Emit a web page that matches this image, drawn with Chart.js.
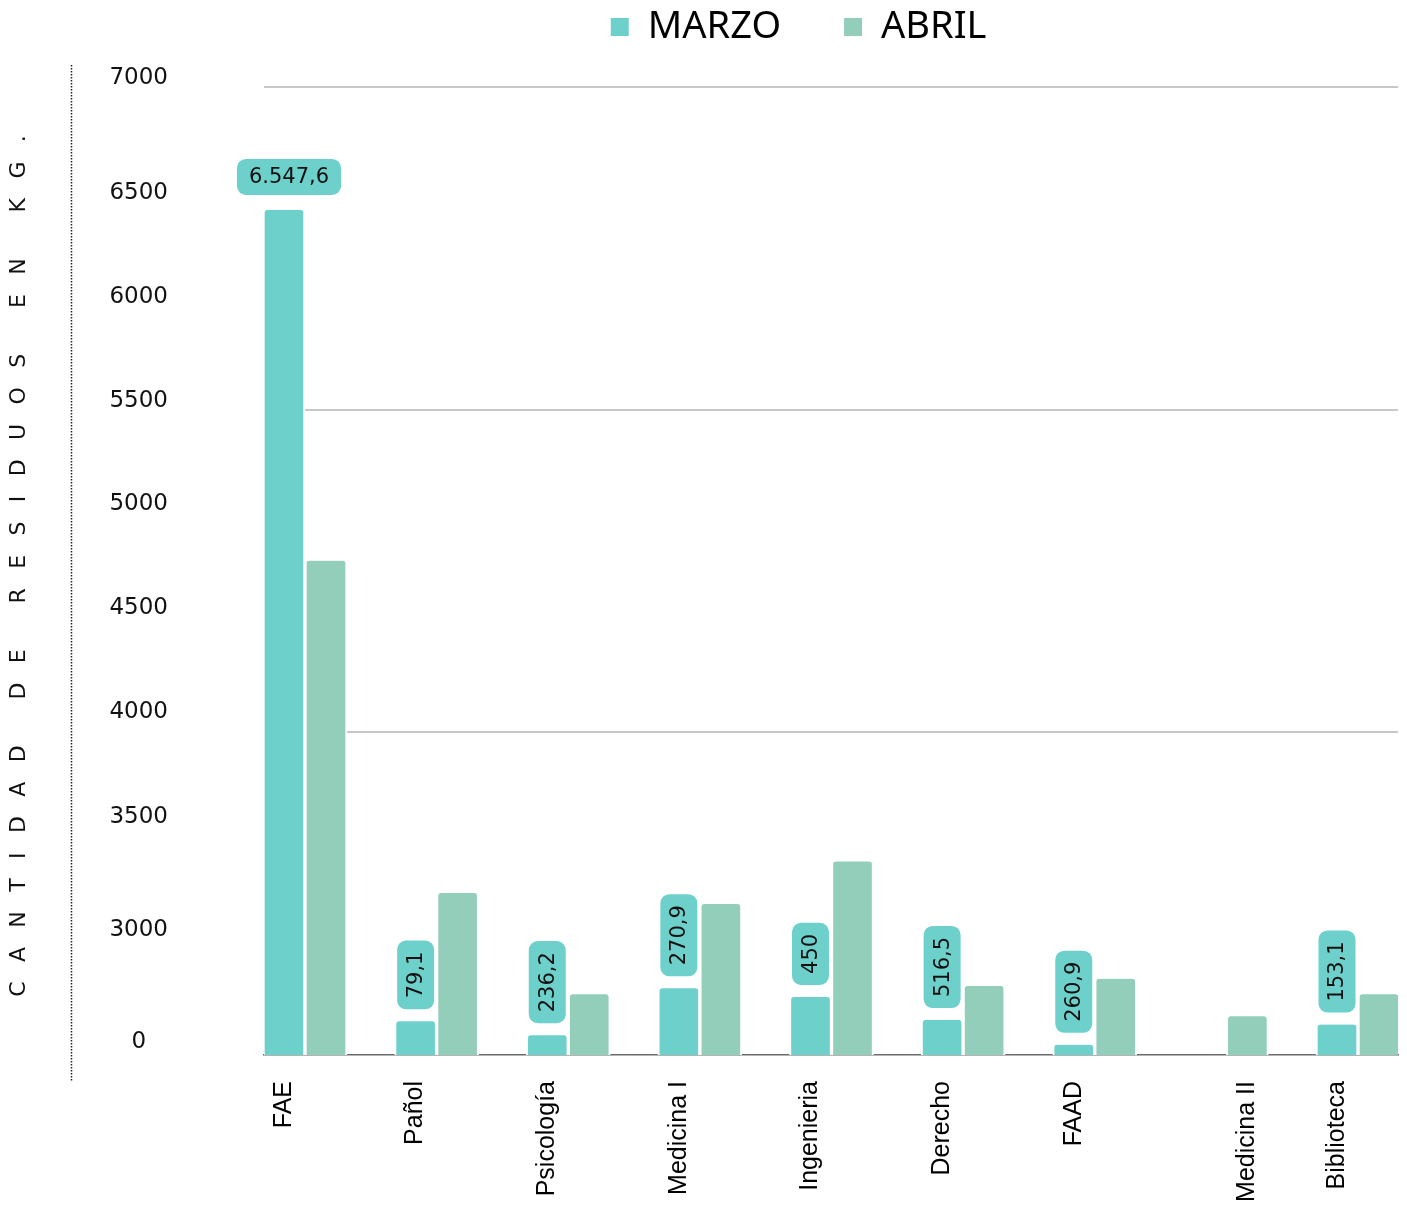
<!DOCTYPE html>
<html><head><meta charset="utf-8">
<script src="https://cdn.jsdelivr.net/npm/chart.js@4.4.1/dist/chart.umd.min.js"></script>
<style>html,body{margin:0;padding:0;background:#fff;}#wrap{position:relative;width:1407px;height:1209px;}</style>
</head><body><div id="wrap"><canvas id="c" width="1407" height="1209"></canvas></div>
<script>
const categories = ['FAE','Pañol','Psicología','Medicina I','Ingenieria','Derecho','FAAD','Medicina II','Biblioteca'];
const marzo = [6547.6, 260.9, 153.1, 516.5, 450, 270.9, 79.1, null, 236.2];
const abril = [3830, 1255, 470, 1170, 1500, 535, 590, 300, 470];
const marzoLabels = ['6.547,6','79,1','236,2','270,9','450','516,5','260,9','','153,1'];
const yTickLabels = ['0','3000','3500','4000','4500','5000','5500','6000','6500','7000'];
const yTickValues = [100, 968, 1842, 2655, 3460, 4265, 5070, 5875, 6680, 7570];
const gridValues = [2500, 5000, 7500];
const yTitle = 'CANTIDAD DE RESIDUOS EN KG.';

const YMAX = 7740;
const C_MARZO = '#6ED0CB', C_ABRIL = '#93CEBA';
const NUM_FONT = "'DejaVu Sans', sans-serif";

const deco = {
  id: 'deco',
  beforeDraw(chart) {
    const c = chart.ctx;
    c.save();
    c.strokeStyle = '#222'; c.lineWidth = 1.5; c.setLineDash([1.5, 1.5]);
    c.beginPath(); c.moveTo(71.5, 65); c.lineTo(71.5, 1081); c.stroke();
    c.setLineDash([]);
    c.font = "22px " + NUM_FONT; c.fillStyle = '#111'; c.textBaseline = 'middle'; c.textAlign = 'left';
    const ls = 19.4;
    const chars = Array.from(yTitle);
    const widths = chars.map(ch => c.measureText(ch).width);
    const total = widths.reduce((a, b) => a + b, 0) + ls * (chars.length - 1);
    c.translate(19, 566); c.rotate(-Math.PI / 2);
    let x = -total / 2;
    chars.forEach((ch, i) => { c.fillText(ch, x, 0); x += widths[i] + ls; });
    c.restore();
  },
  afterDatasetsDraw(chart) {
    const c = chart.ctx;
    const meta = chart.getDatasetMeta(0);
    c.save();
    c.font = "21px " + NUM_FONT; c.textAlign = 'center'; c.textBaseline = 'middle';
    meta.data.forEach((bar, i) => {
      if (marzo[i] === null || !marzoLabels[i]) return;
      const text = marzoLabels[i];
      const w = c.measureText(text).width;
      const horizontal = marzo[i] > 1000;
      c.fillStyle = C_MARZO;
      if (horizontal) {
        const bw = w + 24, bh = 36, cx = bar.x + 5, bottom = bar.y - 15;
        c.beginPath(); c.roundRect(cx - bw / 2, bottom - bh, bw, bh, 9); c.fill();
        c.fillStyle = '#111'; c.fillText(text, cx, bottom - bh / 2 + 1);
      } else {
        const bl = w + 22, bt = 37, cx = bar.x, bottom = bar.y - 12;
        c.beginPath(); c.roundRect(cx - bt / 2, bottom - bl, bt, bl, 9); c.fill();
        c.save(); c.translate(cx + 1, bottom - bl / 2); c.rotate(-Math.PI / 2);
        c.fillStyle = '#111'; c.fillText(text, 0, 0); c.restore();
      }
    });
    c.restore();
  }
};

const blank = t => ({ text: t, fillStyle: 'rgba(0,0,0,0)', strokeStyle: 'rgba(0,0,0,0)', lineWidth: 0, hidden: false });

const chart = new Chart(document.getElementById('c'), {
  type: 'bar',
  data: {
    datasets: [
      { label: 'MARZO', data: marzo.map((v, i) => ({ x: i, y: v })), backgroundColor: C_MARZO },
      { label: 'ABRIL', data: abril.map((v, i) => ({ x: i, y: v })), backgroundColor: C_ABRIL }
    ]
  },
  options: {
    responsive: false, animation: false,
    barThickness: 42,
    borderWidth: { left: 2, right: 2, top: 0, bottom: 0 },
    borderColor: '#ffffff',
    borderRadius: 5,
    layout: { padding: { left: 90, right: 9, top: 0, bottom: 0 } },
    plugins: {
      legend: {
        position: 'top', align: 'center', fullSize: false,
        labels: { boxWidth: 18, boxHeight: 18, padding: 8, color: '#111',
          font: { family: "'Noto Sans', sans-serif", size: 38 },
          generateLabels: ch => {
            const items = ch.data.datasets.map((ds, i) => ({ text: ds.label, fillStyle: ds.backgroundColor,
              strokeStyle: ds.backgroundColor, lineWidth: 0, hidden: false, datasetIndex: i }));
            return [items[0], blank(' '), items[1], blank('  ')];
          } }
      },
      tooltip: { enabled: false }
    },
    scales: {
      x: {
        type: 'linear', min: -0.3115, max: 8.3039, offset: false,
        grid: { display: false, drawTicks: false },
        border: { display: true, color: '#6b6b6b', width: 1.5 },
        afterBuildTicks: s => { s.ticks = categories.map((c, i) => ({ value: i + (marzo[i] === null ? 0.16 : -0.16) })); },
        ticks: { autoSkip: false, minRotation: 90, maxRotation: 90, padding: 26, color: '#000',
          font: { family: "'Liberation Sans', Arial, sans-serif", size: 25 },
          callback: (v, i) => categories[i] },
        afterFit: s => { s.height = 154; }
      },
      yl: {
        type: 'linear', axis: 'y', display: true, position: 'left', min: 0, max: YMAX,
        grid: { display: false, drawTicks: true, tickLength: 96 }, border: { display: false },
        afterBuildTicks: s => { s.ticks = yTickValues.map(v => ({ value: v })); },
        ticks: { display: true, autoSkip: false, crossAlign: 'center', padding: 0, color: '#111',
          font: { family: NUM_FONT, size: 23 }, callback: (v, i) => yTickLabels[i] },
        afterFit: s => { s.width = 174; }
      },
      y: {
        position: 'right', min: 0, max: YMAX,
        grid: { color: '#c8c8c8', lineWidth: 2, drawTicks: false }, border: { display: false },
        ticks: { display: false, padding: 0 },
        afterBuildTicks: s => { s.ticks = gridValues.map(v => ({ value: v })); },
        afterFit: s => { s.width = 0; }
      }
    }
  },
  plugins: [deco]
});
</script></body></html>
